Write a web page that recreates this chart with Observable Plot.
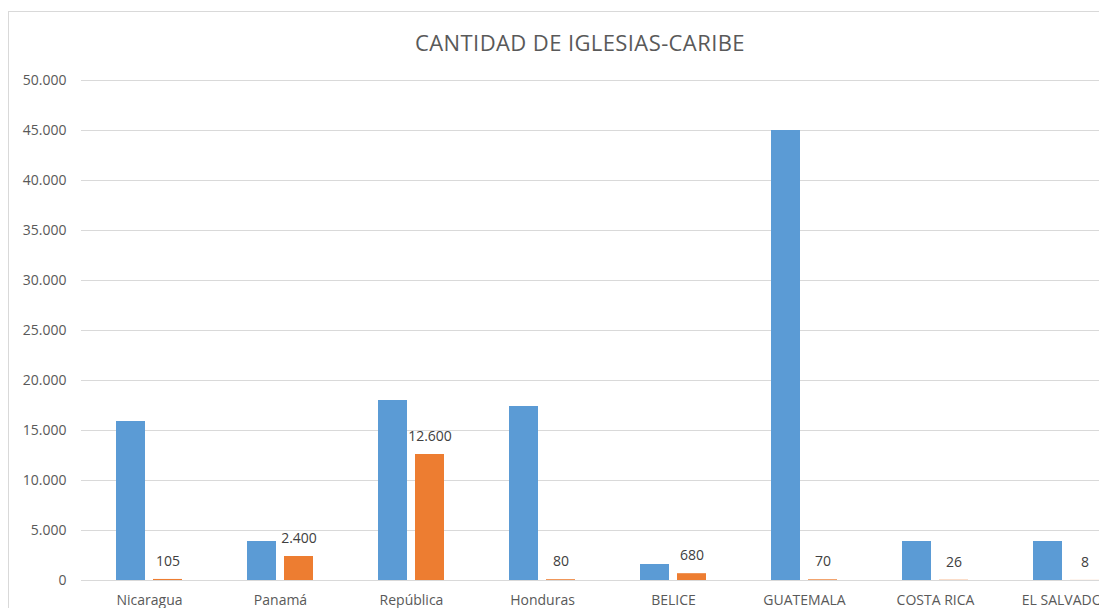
<!DOCTYPE html>
<html>
<head>
<meta charset="utf-8">
<script src="https://cdn.jsdelivr.net/npm/d3@7"></script>
<script src="https://cdn.jsdelivr.net/npm/@observablehq/plot@0.6"></script>
<style>
  html, body { margin: 0; padding: 0; background: #fff; overflow: hidden; width: 1099px; height: 608px; }
  #frame { position: absolute; left: 8px; top: 11px; width: 2000px; height: 2000px; border: 1px solid #d9d9d9; box-sizing: border-box; }
  #title { position: absolute; left: 0; width: 1160px; top: 29px; line-height: 26px; text-align: center; font-family: "Open Sans", sans-serif; font-size: 22px; letter-spacing: 0.4px; color: #595959; }
  #chart { position: absolute; left: 0; top: 0; width: 1133px; }
  #chart svg { max-width: none !important; }
</style>
</head>
<body>
<div id="frame"></div>
<div id="title">CANTIDAD DE IGLESIAS-CARIBE</div>
<div id="chart"></div>
<script>
const countries = ["Nicaragua", "Panamá", "República", "Honduras", "BELICE", "GUATEMALA", "COSTA RICA", "EL SALVADOR"];
const serie1 = [15900, 3900, 18000, 17400, 1600, 45000, 3900, 3900];
const serie2 = [105, 2400, 12600, 80, 680, 70, 26, 8];
const yTicks = [0, 5000, 10000, 15000, 20000, 25000, 30000, 35000, 40000, 45000, 50000];

const rows = countries.map((c, i) => ({country: c, s1: serie1[i], s2: serie2[i]}));

const fmt = d => d3.format(",")(d).replace(/,/g, ".");
const font = "'Open Sans', sans-serif";

const chart = Plot.plot({
  width: 1133,
  height: 625,
  marginTop: 80,
  marginBottom: 45,
  marginLeft: 81,
  marginRight: 0,
  style: {fontFamily: font, fontSize: "14px", color: "#595959", background: "transparent", overflow: "visible", maxWidth: "none"},
  x: {domain: countries, paddingInner: 0.5, paddingOuter: 0.25, label: null},
  y: {domain: [0, 50000], label: null},
  marks: [
    Plot.gridY(yTicks, {stroke: "#d9d9d9", strokeOpacity: 1, strokeWidth: 1}),
    Plot.axisY(yTicks, {tickSize: 0, tickPadding: 15, tickFormat: d => d === 0 ? "0" : fmt(d), fill: "#595959", fontSize: 14, label: null}),
    Plot.axisX({tickSize: 0, tickPadding: 15, fill: "#595959", fontSize: 14, label: null}),
    Plot.barY(rows, {x: "country", y: "s1", fill: "#5b9bd5", insetRight: 37}),
    Plot.barY(rows, {x: "country", y: "s2", fill: "#ed7d31", insetLeft: 37}),
    Plot.text(rows, {x: "country", y: "s2", text: d => fmt(d.s2), dx: 18.5, dy: -18, lineAnchor: "middle", fill: "#404040", fontSize: 14})
  ]
});
document.getElementById("chart").appendChild(chart);
</script>
</body>
</html>
